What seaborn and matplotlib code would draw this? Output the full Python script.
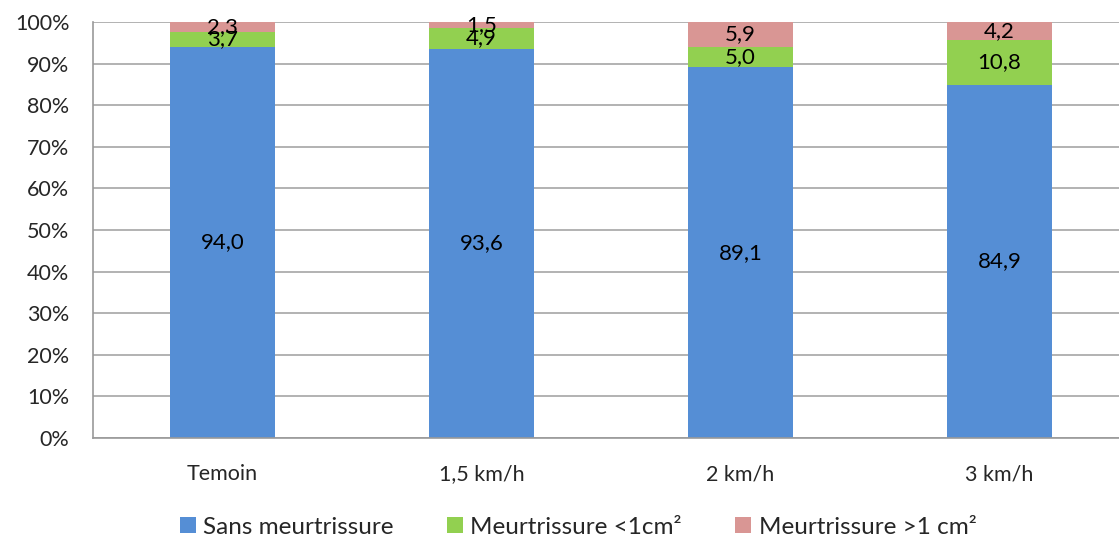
import matplotlib
matplotlib.use("Agg")
import matplotlib.pyplot as plt
from matplotlib.patches import Patch
import numpy as np
import pandas as pd
import seaborn as sns

categories = ["Temoin", "1,5 km/h", "2 km/h", "3 km/h"]
sans = [94.0, 93.6, 89.1, 84.9]
petite = [3.7, 4.9, 5.0, 10.8]
grande = [2.3, 1.5, 5.9, 4.2]
series_names = ["Sans meurtrissure", "Meurtrissure <1cm²", "Meurtrissure >1 cm²"]
colors = ["#558ED5", "#92D050", "#D99694"]

sns.set_theme(style="white")
plt.rcParams["font.family"] = ["Lato", "DejaVu Sans"]

series = [sans, petite, grande]
tops = np.cumsum(np.array(series), axis=0)

fig = plt.figure(figsize=(11.19, 5.38), dpi=100)
ax = fig.add_axes([93 / 1119, 1 - 438 / 538, 1036 / 1119, 416 / 538])

# stacked bars: draw cumulative totals from the top layer down
for i in range(len(series) - 1, -1, -1):
    df = pd.DataFrame({"cat": categories, "val": tops[i]})
    sns.barplot(data=df, x="cat", y="val", color=colors[i], width=0.405,
                saturation=1, ax=ax, edgecolor="none", linewidth=0)

# value labels centred in each segment
for i, vals in enumerate(series):
    bottoms = tops[i] - np.array(vals)
    for j, v in enumerate(vals):
        ax.text(j, bottoms[j] + v / 2, f"{v:.1f}".replace(".", ","),
                ha="center", va="center", fontsize=16, color="black")

ax.set_xlim(-0.5, 3.5)
ax.set_ylim(0, 100)
ax.set_yticks(np.arange(0, 101, 10))
ax.set_yticklabels([f"{t}%" for t in range(0, 101, 10)], fontsize=15.5)
ax.set_xlabel("")
ax.set_ylabel("")
ax.set_xticks(range(len(categories)))
ax.set_xticklabels(categories, fontsize=15.5)
ax.set_xticks([-0.5, 0.5, 1.5, 2.5, 3.5], minor=True)
ax.tick_params(axis="x", which="major", length=0, pad=19)
ax.tick_params(axis="x", which="minor", length=6, color="#999999", width=1.2, direction="out")
ax.tick_params(axis="y", which="major", length=7, color="#999999", width=1.2, direction="out", pad=10)
ax.yaxis.grid(True, color="#a6a6a6", linewidth=1.2)
ax.set_axisbelow(True)
for s in ["top", "right"]:
    ax.spines[s].set_visible(False)
for s in ["left", "bottom"]:
    ax.spines[s].set_color("#999999")
    ax.spines[s].set_linewidth(1.2)

handles = [Patch(facecolor=c, edgecolor="none") for c in colors]
fig.legend(handles, series_names, loc="center", bbox_to_anchor=(578 / 1119, 1 - 527 / 538),
           ncol=3, frameon=False, fontsize=17.5, handlelength=0.66, handleheight=0.66,
           handletextpad=0.3, columnspacing=2.2, borderpad=0, borderaxespad=0)

fig.savefig("out.png", dpi=100)
